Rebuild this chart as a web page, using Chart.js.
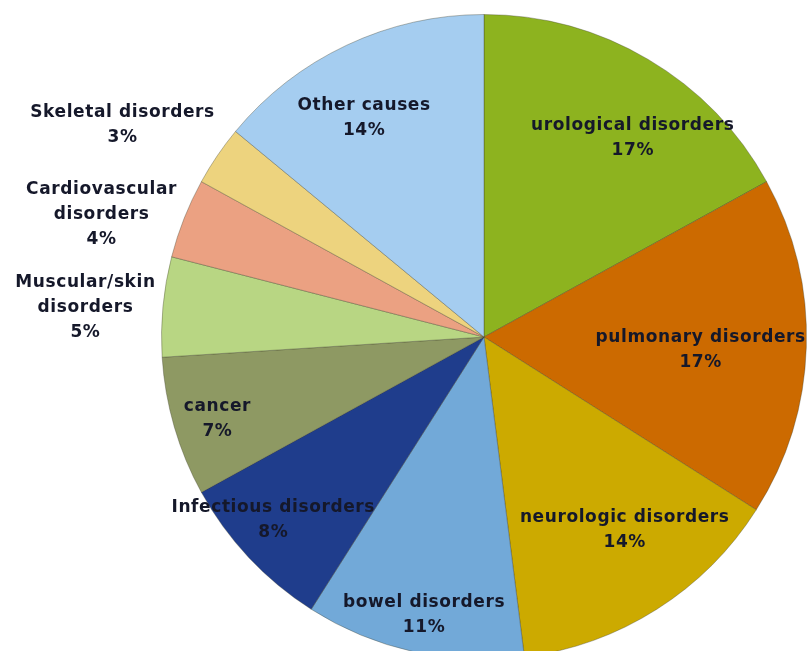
<!DOCTYPE html>
<html>
<head>
<meta charset="utf-8">
<script src="https://cdn.jsdelivr.net/npm/chart.js@4"></script>
<style>
  html, body { margin: 0; padding: 0; background: #fff; overflow: hidden; }
  #wrap { width: 810px; height: 674px; position: relative; }
</style>
</head>
<body>
<div id="wrap"><canvas id="myChart"></canvas></div>
<script>
// categories, clockwise from 12 o'clock
const categories = [
  ['urological disorders'],
  ['pulmonary disorders'],
  ['neurologic disorders'],
  ['bowel disorders'],
  ['Infectious disorders'],
  ['cancer'],
  ['Muscular/skin', 'disorders'],
  ['Cardiovascular', 'disorders'],
  ['Skeletal disorders'],
  ['Other causes']
];
const shares = [17, 17, 14, 11, 8, 7, 5, 4, 3, 14];
const sliceColors = [
  '#8db31f', '#cc6a00', '#ccaa00', '#72a9d8', '#1f3d8c',
  '#8e9963', '#b8d683', '#eba182', '#edd37e', '#a5cdf0'
];
// label placement: shift from slice middle (deg) and distance (radius units)
const labelShift = [6.15, 1.63, -3.68, -0.44, 2.27, -0.97, -1.24, -3.86, -3.84, -3.46];
const labelReach = [0.771, 0.673, 0.741, 0.882, 0.865, 0.865, 1.239, 1.245, 1.299, 0.775];

const ctx = document.getElementById('myChart');

const sliceLabels = {
  id: 'sliceLabels',
  afterDatasetsDraw(chart) {
    const c = chart.ctx;
    const meta = chart.getDatasetMeta(0);
    c.save();
    c.font = 'bold 17px "DejaVu Sans", sans-serif';
    c.letterSpacing = '0.6px';
    c.fillStyle = '#15182a';
    c.textAlign = 'center';
    c.textBaseline = 'middle';
    const lineH = 25;
    meta.data.forEach((arc, i) => {
      const p = arc.getProps(['x', 'y', 'startAngle', 'endAngle', 'outerRadius'], true);
      const a = (p.startAngle + p.endAngle) / 2 + labelShift[i] * Math.PI / 180;
      const r = p.outerRadius * labelReach[i];
      const cx = p.x + Math.cos(a) * r;
      const cy = p.y + Math.sin(a) * r;
      const lines = categories[i].concat([shares[i] + '%']);
      const top = cy - (lines.length - 1) * lineH / 2;
      lines.forEach((t, k) => c.fillText(t, cx, top + k * lineH));
    });
    c.restore();
  }
};

new Chart(ctx, {
  type: 'pie',
  data: {
    labels: categories.map(l => l.join(' ')),
    datasets: [{
      data: shares,
      backgroundColor: sliceColors,
      borderColor: 'rgba(60,60,40,0.35)',
      borderWidth: 1
    }]
  },
  options: {
    responsive: true,
    maintainAspectRatio: false,
    animation: false,
    layout: { padding: { left: 161, right: 3, top: 14, bottom: 14 } },
    plugins: {
      legend: { display: false },
      tooltip: { enabled: false }
    }
  },
  plugins: [sliceLabels]
});
</script>
</body>
</html>
